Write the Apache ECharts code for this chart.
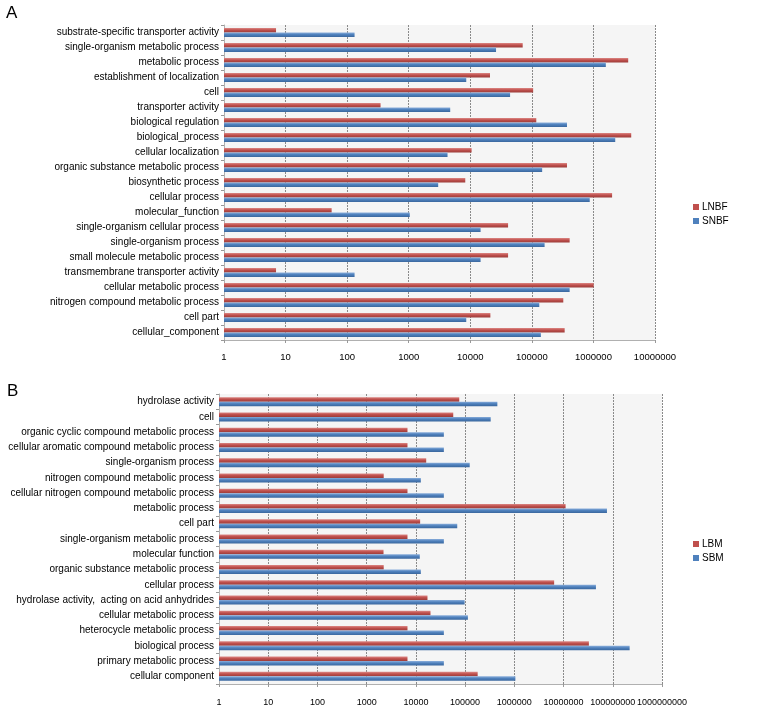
<!DOCTYPE html>
<html><head><meta charset="utf-8">
<script src="https://cdn.jsdelivr.net/npm/echarts@6/dist/echarts.min.js"></script>
<style>html,body{margin:0;padding:0;background:#fff}#c{width:778px;height:707px}</style>
</head><body><div id="c"></div>
<script>
const catsA = ['substrate-specific transporter activity','single-organism metabolic process','metabolic process','establishment of localization','cell','transporter activity','biological regulation','biological_process','cellular localization','organic substance metabolic process','biosynthetic process','cellular process','molecular_function','single-organism cellular process','single-organism process','small molecule metabolic process','transmembrane transporter activity','cellular metabolic process','nitrogen compound metabolic process','cell part','cellular_component'];
const lnbf = [7,71000,3670000,20900,105000,349,118000,4110000,10500,372000,8290,2010000,56,41100,411000,41100,7,1010000,324000,21200,341000];
const snbf = [132,26200,1590000,8600,44300,4720,372000,2260000,4270,147000,3010,871000,1040,14700,161000,14700,132,411000,132000,8600,140000];

const catsB = ['hydrolase activity','cell','organic cyclic compound metabolic process','cellular aromatic compound metabolic process','single-organism process','nitrogen compound metabolic process','cellular nitrogen compound metabolic process','metabolic process','cell part','single-organism metabolic process','molecular function','organic substance metabolic process','cellular process','hydrolase activity,  acting on acid anhydrides','cellular metabolic process','heterocycle metabolic process','biological process','primary metabolic process','cellular component'];
const lbm = [76000,57400,6750,6750,16200,2220,6750,11000000,12200,6750,2200,2220,6440000,17200,19800,6750,32700000,6750,180000];
const sbm = [452000,331000,37000,37000,124000,12600,37000,76200000,69200,37000,12000,12600,45500000,97700,114000,37000,220000000,37000,1050000];

const ticksA = ['1','10','100','1000','10000','100000','1000000','10000000'];
const ticksB = ['1','10','100','1000','10000','100000','1000000','10000000','100000000','1000000000'];

const FONT = '"Liberation Sans", Arial, sans-serif';
function grad(top, mid, bot){
  return new echarts.graphic.LinearGradient(0,0,0,1,[{offset:0,color:top},{offset:0.45,color:mid},{offset:1,color:bot}]);
}
const RED = '#c0504d', BLUE = '#4f81bd';
const redG = () => grad('#dc8885', RED, '#9c3c39');
const blueG = () => grad('#8aaedb', BLUE, '#3a679e');

function xAxisCfg(gi, maxV, ticks, margin, fs){
  return {
    type:'log', logBase:10, gridIndex:gi, min:1, max:maxV,
    axisLine:{show:true, lineStyle:{color:'#b0b0b0'}},
    axisTick:{show:true, length:3, lineStyle:{color:'#999'}},
    splitLine:{show:true, lineStyle:{color:'#8a8a8a', type:[2,1], width:1}},
    minorTick:{show:false},
    axisLabel:{margin:margin, fontSize:fs, color:'#000', fontFamily:FONT, showMaxLabel:true, showMinLabel:true, hideOverlap:false,
      formatter:function(v){ const i = Math.round(Math.log10(v)); return ticks[i] !== undefined ? ticks[i] : ''; }}
  };
}
function yAxisCfg(gi, cats){
  return {
    type:'category', gridIndex:gi, data:cats, inverse:true,
    axisLine:{show:true, lineStyle:{color:'#b0b0b0'}},
    axisTick:{show:true, length:3, lineStyle:{color:'#999'}},
    axisLabel:{fontSize:10, color:'#000', fontFamily:FONT, margin:5, interval:0}
  };
}

const chart = echarts.init(document.getElementById('c'), null, {renderer:'canvas'});
chart.setOption({
  animation:false,
  backgroundColor:'#fff',
  textStyle:{fontFamily:FONT},
  title:[
    {text:'A', left:1, top:0, textStyle:{fontSize:17, fontWeight:'normal', color:'#000', fontFamily:FONT}},
    {text:'B', left:2, top:378, textStyle:{fontSize:17, fontWeight:'normal', color:'#000', fontFamily:FONT}}
  ],
  grid:[
    {left:224, right:123, top:25, bottom:367, show:true, backgroundColor:'#f5f5f5', borderWidth:0},
    {left:219, right:116, top:394, bottom:22, show:true, backgroundColor:'#f5f5f5', borderWidth:0}
  ],
  legend:[
    {data:[{name:'LNBF', itemStyle:{color:RED}},{name:'SNBF', itemStyle:{color:BLUE}}], orient:'vertical', left:688, top:197, icon:'rect', itemWidth:6, itemHeight:6, itemGap:4,
      textStyle:{fontSize:10, color:'#000', fontFamily:FONT, padding:[0,0,0,-2]}},
    {data:[{name:'LBM', itemStyle:{color:RED}},{name:'SBM', itemStyle:{color:BLUE}}], orient:'vertical', left:688, top:534, icon:'rect', itemWidth:6, itemHeight:6, itemGap:4,
      textStyle:{fontSize:10, color:'#000', fontFamily:FONT, padding:[0,0,0,-2]}}
  ],
  xAxis:[ xAxisCfg(0, 1e7, ticksA, 12, 9.5), xAxisCfg(1, 1e9, ticksB, 14, 9) ],
  yAxis:[ yAxisCfg(0, catsA), yAxisCfg(1, catsB) ],
  series:[
    {name:'LNBF', type:'bar', xAxisIndex:0, yAxisIndex:0, data:lnbf, barWidth:4.5, barGap:'0%', itemStyle:{color:redG()}},
    {name:'SNBF', type:'bar', xAxisIndex:0, yAxisIndex:0, data:snbf, barWidth:4.5, barGap:'0%', itemStyle:{color:blueG()}},
    {name:'LBM', type:'bar', xAxisIndex:1, yAxisIndex:1, data:lbm, barWidth:4.5, barGap:'0%', itemStyle:{color:redG()}},
    {name:'SBM', type:'bar', xAxisIndex:1, yAxisIndex:1, data:sbm, barWidth:4.5, barGap:'0%', itemStyle:{color:blueG()}}
  ]
});
</script></body></html>
